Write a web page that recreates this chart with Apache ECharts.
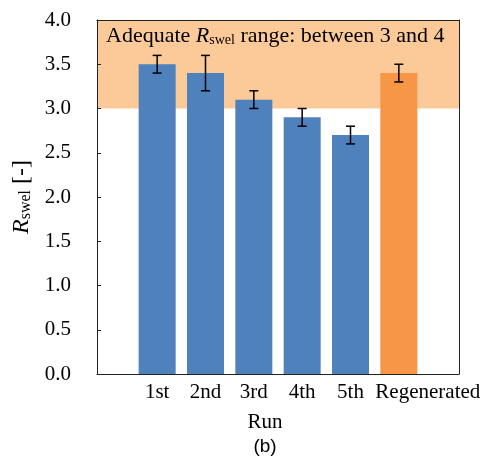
<!DOCTYPE html>
<html><head><meta charset="utf-8">
<script src="https://cdn.jsdelivr.net/npm/echarts@6/dist/echarts.min.js"></script>
<style>html,body{margin:0;padding:0;background:#fff}#c{width:488px;height:461px}</style>
</head><body><div id="c"></div>
<script>
const categories = ['1st','2nd','3rd','4th','5th','Regenerated'];
const values = [3.5, 3.4, 3.1, 2.9, 2.7, 3.4];
const errors = [0.1, 0.2, 0.1, 0.1, 0.1, 0.1];
const barColors = ['#4F81BD','#4F81BD','#4F81BD','#4F81BD','#4F81BD','#F79646'];
const yTicks = { min: 0, max: 4, interval: 0.5 };
const bandRange = [3, 4];

const serif = "'Liberation Serif', 'Times New Roman', serif";
const sans = "'Liberation Sans', Arial, sans-serif";
const chart = echarts.init(document.getElementById('c'));
const frameColor = '#222';
const hidden = { show: false };
const frameLine = { show: true, onZero: false, lineStyle: { color: frameColor, width: 1 } };

chart.setOption({
  animation: false,
  textStyle: { fontFamily: serif },
  grid: [
    { left: 97, right: 29, top: 20, bottom: 87 },
    { left: 133, right: 65, top: 20, bottom: 87 }
  ],
  xAxis: [
    { gridIndex: 0, type: 'value', min: 0, max: 1, position: 'bottom', z: 10,
      axisLine: frameLine, axisTick: hidden, axisLabel: hidden, splitLine: hidden },
    { gridIndex: 0, type: 'value', min: 0, max: 1, position: 'top', z: 10,
      axisLine: frameLine, axisTick: hidden, axisLabel: hidden, splitLine: hidden },
    { gridIndex: 1, type: 'category', data: categories.map(c => c === 'Regenerated'
        ? { value: c, textStyle: { padding: [0, 0, 0, 58] } } : c),
      axisLine: hidden, axisTick: hidden, splitLine: hidden,
      axisLabel: { color: '#000', fontFamily: serif, fontSize: 21, margin: 8, interval: 0 } }
  ],
  yAxis: [
    { gridIndex: 0, type: 'value', min: yTicks.min, max: yTicks.max, interval: yTicks.interval, z: 10,
      axisLine: frameLine,
      axisTick: { show: true, inside: true, length: 4, lineStyle: { color: frameColor } },
      axisLabel: { color: '#000', fontFamily: serif, fontSize: 21, margin: 26,
        formatter: v => v.toFixed(1) },
      splitLine: hidden,
      name: '{i|R}{s|swel}{n| [-]}', nameLocation: 'middle', nameGap: 54, nameRotate: 90,
      nameTextStyle: { color: '#000', fontFamily: serif,
        rich: {
          i: { fontFamily: serif, fontSize: 24, fontStyle: 'italic', color: '#000' },
          s: { fontFamily: serif, fontSize: 16, color: '#000', verticalAlign: 'bottom', padding: [9, 0, 0, 0] },
          n: { fontFamily: serif, fontSize: 24, color: '#000' }
        } } },
    { gridIndex: 0, type: 'value', min: yTicks.min, max: yTicks.max, position: 'right', z: 10,
      axisLine: frameLine, axisTick: hidden, axisLabel: hidden, splitLine: hidden },
    { gridIndex: 1, type: 'value', min: yTicks.min, max: yTicks.max, interval: yTicks.interval,
      show: false, splitLine: hidden }
  ],
  series: [
    { type: 'line', xAxisIndex: 0, yAxisIndex: 0, data: [], z: 1,
      markArea: { silent: true, itemStyle: { color: '#FCCA98', opacity: 1 },
        data: [[{ yAxis: bandRange[0] }, { yAxis: bandRange[1] }]] } },
    { type: 'bar', xAxisIndex: 2, yAxisIndex: 2, barWidth: 37, z: 3,
      data: values.map((v, i) => ({ value: v, itemStyle: { color: barColors[i] } })) },
    { type: 'custom', xAxisIndex: 2, yAxisIndex: 2, z: 5,
      data: values.map((v, i) => [i, v - errors[i], v + errors[i]]),
      renderItem: (params, api) => {
        const lo = api.coord([api.value(0), api.value(1)]);
        const hi = api.coord([api.value(0), api.value(2)]);
        const hw = 4.5;
        const st = { stroke: '#000', lineWidth: 1.5 };
        return { type: 'group', children: [
          { type: 'line', shape: { x1: lo[0], y1: lo[1], x2: hi[0], y2: hi[1] }, style: st },
          { type: 'line', shape: { x1: lo[0] - hw, y1: lo[1], x2: lo[0] + hw, y2: lo[1] }, style: st },
          { type: 'line', shape: { x1: hi[0] - hw, y1: hi[1], x2: hi[0] + hw, y2: hi[1] }, style: st }
        ] };
      } }
  ],
  graphic: [
    { type: 'text', x: 106, y: 36, z: 20,
      style: { text: '{a|Adequate }{i|R}{s|swel}{a| range: between 3 and 4}', verticalAlign: 'middle',
        rich: {
          a: { fontFamily: serif, fontSize: 22, fill: '#000' },
          i: { fontFamily: serif, fontSize: 22, fontStyle: 'italic', fill: '#000' },
          s: { fontFamily: serif, fontSize: 14, fill: '#000', verticalAlign: 'bottom', padding: [8, 0, 0, 0] }
        } } },
    { type: 'text', x: 265, y: 422, z: 20,
      style: { text: 'Run', fontFamily: serif, fontSize: 21, fill: '#000', align: 'center', verticalAlign: 'middle' } },
    { type: 'text', x: 265, y: 447, z: 20,
      style: { text: '(b)', fontFamily: sans, fontSize: 19, fill: '#000', align: 'center', verticalAlign: 'middle' } }
  ]
});
</script></body></html>
